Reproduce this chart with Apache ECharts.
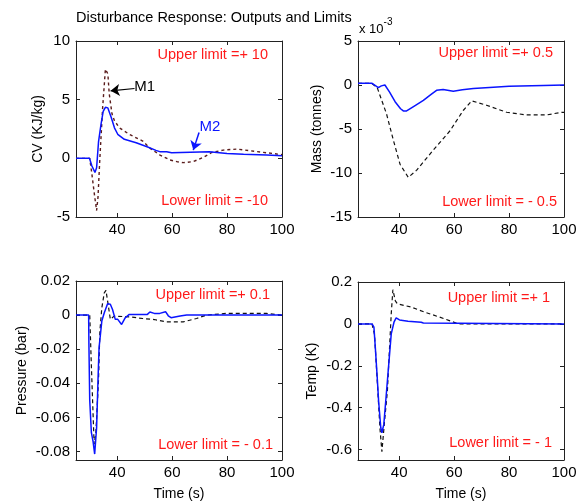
<!DOCTYPE html>
<html>
<head>
<meta charset="utf-8">
<script src="https://cdn.jsdelivr.net/npm/echarts@6/dist/echarts.min.js"></script>
<style>
html,body{margin:0;padding:0;background:#fff;}
#chart{width:582px;height:504px;}
</style>
</head>
<body>
<div id="chart"></div>
<script>
// ---- data (time s, value) ----
const xTicks = [40, 60, 80, 100];
const cvM1 = [[25,0],[30,0],[30.8,-1.37],[31.7,-3.07],[32.5,-4.45],[33,-3.35],[33.7,0.05],[34.7,4.3],[35.7,7.6],[36.6,7.2],[37.1,5.5],[38.1,3.8],[39,3.2],[40.8,2.6],[44.4,2.05],[49.3,1.47],[52,0.85],[55.6,0.28],[59.2,-0.14],[62,-0.3],[64.1,-0.37],[67.7,-0.28],[71.3,0.08],[74.4,0.5],[78.6,0.7],[83.5,0.79],[88.3,0.65],[93.2,0.51],[98.1,0.37],[100,0.32]];
const cvM2 = [[25,0],[29.9,0],[30.8,-0.65],[31.9,-1.2],[32.5,-0.8],[33.2,1.4],[34.1,2.9],[34.9,4.0],[35.7,4.35],[36.6,4.3],[37.8,3.5],[39,2.6],[40.2,2.05],[42.6,1.62],[46.9,1.33],[51.1,0.96],[54.1,0.68],[55.5,0.57],[58,0.57],[58.5,0.48],[59.8,0.48],[60.2,0.57],[73.5,0.57],[74,0.47],[80,0.42],[86,0.35],[94.4,0.28],[100,0.22]];
const massM1 = [[25,0.2],[30,0.2],[32,-0.3],[35.4,-3.3],[37.9,-6.3],[40.3,-9],[43.3,-10.5],[46.3,-9.7],[52.4,-7.4],[58.5,-5.2],[63.3,-2.9],[66.4,-1.8],[71.8,-2.3],[79.1,-3.1],[86.4,-3.4],[93.7,-3.4],[99.1,-3.1],[100,-3.1]];
const massM2 = [[25,0.2],[30,0.2],[32.4,-0.3],[33.5,-0.1],[34.8,0],[36.5,-0.8],[38.5,-1.9],[40.5,-2.7],[41.5,-2.95],[42.7,-2.95],[45.5,-2.4],[48.8,-1.75],[51.5,-1.1],[53.6,-0.6],[56,-0.5],[59.7,-0.7],[63,-0.55],[67,-0.4],[74.3,-0.25],[80,-0.15],[92.5,-0.05],[100,0]];
const presM1 = [[25,0],[30,0],[30.6,-0.03],[31.6,-0.0757],[32.2,-0.07],[33.2,-0.038],[33.7,-0.0094],[34.4,0.0043],[35.3,0.013],[35.9,0.0145],[36.7,0.0063],[37.5,-0.0025],[38.1,-0.003],[38.9,-0.0006],[44.4,-0.001],[49.3,-0.002],[53.5,-0.0026],[58,-0.004],[64,-0.004],[68.9,-0.002],[72.5,0],[79.8,0.001],[94.4,0.001],[95,0],[100,0]];
const presM2 = [[25,0],[29.6,0],[29.7,-0.017],[30,-0.05],[30.6,-0.069],[31.2,-0.074],[31.8,-0.0815],[32.5,-0.066],[33,-0.0386],[33.4,-0.019],[34.4,-0.0035],[35.3,0.0014],[36.5,0.0066],[37.5,0.0064],[38.3,0.0033],[39.3,-0.0025],[40.2,-0.0025],[41.6,-0.0055],[42.9,-0.0016],[44.4,0.0004],[51,0.0004],[51.9,0.0018],[53.5,0.001],[55.5,0.001],[57.6,0.002],[58.6,-0.0004],[59.6,-0.0015],[62.9,-0.0005],[65.3,0],[100,0]];
const tempM1 = [[25,0],[30.1,0],[31,-0.05],[32,-0.27],[33,-0.5],[33.7,-0.61],[34.7,-0.46],[35.7,-0.32],[36.5,-0.11],[37.1,0.048],[37.7,0.163],[38.6,0.11],[39.3,0.096],[44.4,0.08],[49.3,0.056],[54.1,0.035],[58,0.017],[61.5,0],[100,0]];
const tempM2 = [[25,0],[30.1,0],[30.8,-0.016],[31.3,-0.112],[32,-0.256],[32.5,-0.368],[33.3,-0.496],[33.7,-0.52],[34.4,-0.48],[35.3,-0.336],[36.2,-0.192],[37.1,-0.048],[38.1,0.008],[38.9,0.029],[40.1,0.019],[43.2,0.013],[48,0.008],[48.8,0.004],[49,0],[100,0]];
const yNames = ['CV (KJ/kg)', 'Mass (tonnes)', 'Pressure (bar)', 'Temp (K)'];
const upperLabels = ['Upper limit =+ 10', 'Upper limit =+ 0.5', 'Upper limit =+ 0.1', 'Upper limit =+ 1'];
const lowerLabels = ['Lower limit = -10', 'Lower limit = - 0.5', 'Lower limit = - 0.1', 'Lower limit = - 1'];
const yRanges = [[-5, 10, 5], [-15, 5, 5], [-0.085, 0.02, 0.02], [-0.65, 0.2, 0.2]];
const xRange = [25, 100, 20];
const titleText = 'Disturbance Response: Outputs and Limits';
// annotation anchors (data coords): arrow tail, arrow tip, label centre
const m1Arrow = [[46.3, 5.95], [37.6, 5.75]];
const m1Label = [50.0, 6.1];
const m2Arrow = [[69.8, 2.2], [67.7, 0.7]];
const m2Label = [73.8, 2.65];

// ---- chart ----
const FONT = "'Liberation Sans', Arial, sans-serif";
const AX = '#222';
const grids = [
  {left: 76, top: 41, width: 206, height: 176},
  {left: 358, top: 41, width: 206, height: 176},
  {left: 76, top: 281, width: 206, height: 179},
  {left: 358, top: 282, width: 206, height: 178}
];
const yNameGaps = [31, 34, 47, 39];
function isMult(v, step) {
  const r = v / step;
  return Math.abs(r - Math.round(r)) < 1e-6;
}
const xAxes = [], yAxes = [];
grids.forEach((g, i) => {
  const xr = xRange;
  xAxes.push({
    type: 'value', gridIndex: i, position: 'bottom', min: xr[0], max: xr[1],
    minInterval: xr[2], maxInterval: xr[2],
    axisLine: {show: true, onZero: false, lineStyle: {color: AX, width: 1}},
    axisTick: {show: true, inside: true, length: 4, lineStyle: {color: AX}},
    axisLabel: {show: true, margin: 5, color: '#000', fontSize: 15, fontFamily: FONT,
      formatter: v => isMult(v, xr[2]) ? String(v) : ''},
    splitLine: {show: false},
    name: i >= 2 ? 'Time (s)' : '', nameLocation: 'middle', nameGap: 27,
    nameTextStyle: {color: '#000', fontSize: 14, fontFamily: FONT}
  });
  xAxes.push({
    type: 'value', gridIndex: i, position: 'top', min: xr[0], max: xr[1],
    minInterval: xr[2], maxInterval: xr[2],
    axisLine: {show: true, onZero: false, lineStyle: {color: AX, width: 1}},
    axisTick: {show: true, inside: true, length: 4, lineStyle: {color: AX}},
    axisLabel: {show: false}, splitLine: {show: false}
  });
  const yr = yRanges[i];
  const exact = isMult(yr[0], yr[2]);
  const yBase = {
    type: 'value', gridIndex: i, min: yr[0], max: yr[1],
    splitLine: {show: false},
    axisLine: {show: true, onZero: false, lineStyle: {color: AX, width: 1}},
    axisTick: {show: true, inside: true, length: 4, lineStyle: {color: AX}}
  };
  if (exact) { yBase.interval = yr[2]; } else { yBase.minInterval = yr[2]; yBase.maxInterval = yr[2]; }
  yAxes.push(Object.assign({}, yBase, {
    position: 'left',
    axisLabel: {show: true, margin: 6, color: '#000', fontSize: 15, fontFamily: FONT,
      formatter: v => isMult(v, yr[2]) ? String(+v.toFixed(6)) : ''},
    name: yNames[i], nameLocation: 'middle', nameGap: yNameGaps[i], nameRotate: 90,
    nameTextStyle: {color: '#000', fontSize: 14, fontFamily: FONT}
  }));
  yAxes.push(Object.assign({}, yBase, {position: 'right', axisLabel: {show: false}}));
});

const dashBlack = {color: '#111', width: 1.2, type: [4, 3]};
const dashBrown = {color: '#5a1c1c', width: 1.4, type: [3, 3]};
const blue = {color: '#0a14ff', width: 1.5};
function line(data, i, style, extra) {
  return Object.assign({
    type: 'line', data: data, xAxisIndex: i * 2, yAxisIndex: i * 2,
    showSymbol: false, symbol: 'none', lineStyle: style, color: style.color,
    silent: true, z: style === blue ? 3 : 2
  }, extra || {});
}
function arrow(pts, color, width) {
  return {
    silent: true, symbol: ['none', 'arrow'], symbolSize: 9, animation: false,
    lineStyle: {color: color, type: 'solid', width: width},
    label: {show: false},
    data: [[{coord: pts[0]}, {coord: pts[1]}]]
  };
}
function tag(pos, text, color) {
  return {
    silent: true, animation: false, symbol: 'circle', symbolSize: 0,
    label: {show: true, position: 'inside', formatter: text, color: color, fontSize: 15, fontFamily: FONT},
    itemStyle: {color: 'rgba(0,0,0,0)'},
    data: [{coord: pos}]
  };
}
const series = [
  line(cvM1, 0, dashBrown, {markLine: arrow(m1Arrow, '#000', 1.2), markPoint: tag(m1Label, 'M1', '#000')}),
  line(cvM2, 0, blue, {markLine: arrow(m2Arrow, '#0a14ff', 1.5), markPoint: tag(m2Label, 'M2', '#0a14ff')}),
  line(massM1, 1, dashBlack), line(massM2, 1, blue),
  line(presM1, 2, dashBlack), line(presM2, 2, blue),
  line(tempM1, 3, dashBlack), line(tempM2, 3, blue)
];

const limitPos = [
  [[268, 55], [268, 201]],
  [[553, 53], [557, 202]],
  [[270, 295], [273, 445]],
  [[550, 298], [552, 443]]
];
const graphics = [];
limitPos.forEach((p, i) => {
  [upperLabels[i], lowerLabels[i]].forEach((t, k) => {
    graphics.push({type: 'text', silent: true, x: p[k][0], y: p[k][1], style: {
      text: t, fill: '#ff1a1a', font: '14.5px ' + FONT, textAlign: 'right', textVerticalAlign: 'middle',
      align: 'right', verticalAlign: 'middle'}});
  });
});
graphics.push({type: 'text', silent: true, x: 359, y: 25, style: {
  text: '{a|x 10}{b|-3}', fill: '#000', textVerticalAlign: 'middle', verticalAlign: 'middle',
  rich: {a: {fontSize: 13, fontFamily: FONT, color: '#000', padding: [8, 0, 0, 0]},
         b: {fontSize: 10, fontFamily: FONT, color: '#000', padding: [0, 0, 6, 0]}}
}});

const chart = echarts.init(document.getElementById('chart'), null, {renderer: 'canvas'});
chart.setOption({
  animation: false,
  backgroundColor: '#fff',
  title: {text: titleText, left: 76, top: 10, padding: 0, textStyle: {fontSize: 14.5, fontWeight: 'normal', color: '#000', fontFamily: FONT}},
  grid: grids,
  xAxis: xAxes,
  yAxis: yAxes,
  series: series,
  graphic: graphics
});
</script>
</body>
</html>
